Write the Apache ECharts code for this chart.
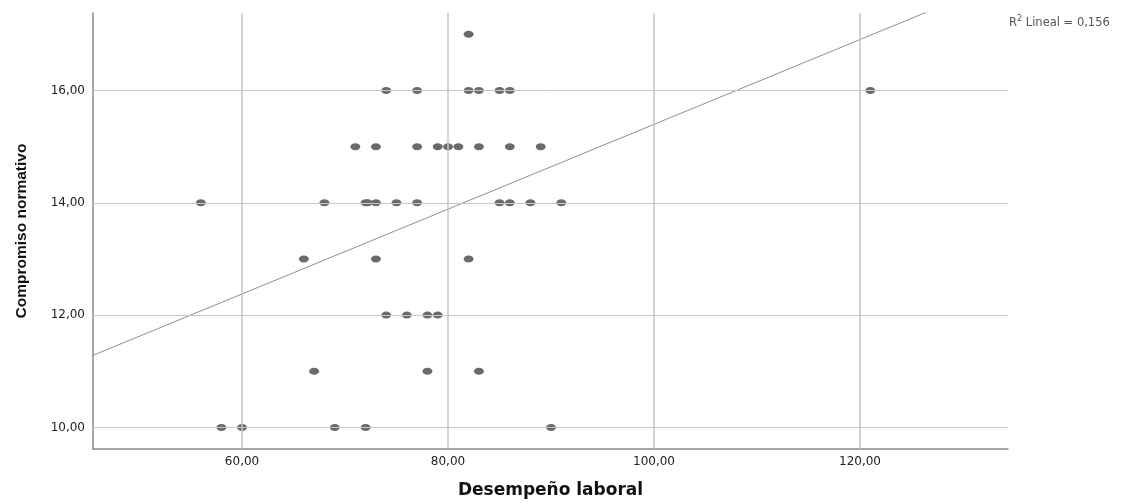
<!DOCTYPE html>
<html>
<head>
<meta charset="utf-8">
<script src="https://cdn.jsdelivr.net/npm/echarts@6/dist/echarts.min.js"></script>
<style>
html,body{margin:0;padding:0;background:#fff;}
#c{width:1132px;height:504px;}
</style>
</head>
<body>
<div id="c"></div>
<script>
// ---- Data ----
// Desempeño laboral (x) values grouped by Compromiso normativo (y) level
const x_y17 = [82];
const x_y16 = [74, 77, 82, 83, 85, 86, 121];
const x_y15 = [71, 73, 77, 79, 80, 81, 83, 86, 89];
const x_y14 = [56, 68, 72, 72.2, 73, 75, 77, 85, 86, 88, 91];
const x_y13 = [66, 73, 82];
const x_y12 = [74, 76, 78, 79];
const x_y11 = [67, 78, 83];
const x_y10 = [58, 60, 69, 72, 90];
const yLevels = [17, 16, 15, 14, 13, 12, 11, 10];
const xGroups = [x_y17, x_y16, x_y15, x_y14, x_y13, x_y12, x_y11, x_y10];

// Axis ranges and tick labels
const xMin = 45.53, xMax = 134.37;
const yMin = 9.616, yMax = 17.38;
const xTicks = [60, 80, 100, 120];
const yTicks = [10, 12, 14, 16];

// Linear fit (as drawn in the reference)
const fitIntercept = 7.847;
const fitSlope = 0.0755;
const r2Text = '0,156';

// ---- Build ----
const points = [];
yLevels.forEach((y, i) => xGroups[i].forEach(x => points.push([x, y])));
const fitLine = [[xMin, fitIntercept + fitSlope * xMin], [xMax, fitIntercept + fitSlope * xMax]];
const fmt = v => Number(v).toFixed(2).replace('.', ',');

const chart = echarts.init(document.getElementById('c'), null, {renderer: 'canvas'});
chart.setOption({
  animation: false,
  backgroundColor: '#ffffff',
  grid: {left: 93, top: 13, right: 124, bottom: 52, containLabel: false},
  xAxis: {
    type: 'value', min: xMin, max: xMax,
    name: 'Desempeño laboral', nameLocation: 'middle', nameGap: 33,
    nameTextStyle: {fontFamily: 'DejaVu Sans', fontWeight: 'bold', fontSize: 17, color: '#111'},
    axisLine: {show: true, onZero: false, lineStyle: {color: '#8a8a8a', width: 1.5}},
    axisTick: {show: false},
    splitLine: {show: false},
    axisLabel: {customValues: xTicks, formatter: fmt, margin: 7,
      fontFamily: 'DejaVu Sans', fontSize: 12, color: '#222'}
  },
  yAxis: {
    type: 'value', min: yMin, max: yMax,
    name: 'Compromiso normativo', nameLocation: 'middle', nameGap: 63, nameRotate: 90,
    nameTextStyle: {fontFamily: 'Liberation Sans', fontWeight: 'bold', fontSize: 15.5, color: '#111'},
    axisLine: {show: true, onZero: false, lineStyle: {color: '#8a8a8a', width: 1.5}},
    axisTick: {show: false},
    splitLine: {show: false},
    axisLabel: {customValues: yTicks, formatter: fmt, margin: 8,
      fontFamily: 'DejaVu Sans', fontSize: 12, color: '#222'}
  },
  series: [
    {
      type: 'scatter', name: 'gridlines', data: [], z: 1, silent: true,
      markLine: {
        silent: true, symbol: 'none', animation: false,
        label: {show: false},
        data: [
          ...xTicks.map(v => ({xAxis: v, lineStyle: {color: '#c4c4c4', width: 1.5, type: 'solid'}})),
          ...yTicks.map(v => ({yAxis: v, lineStyle: {color: '#c8c8c8', width: 1, type: 'solid'}}))
        ]
      }
    },
    {
      type: 'line', name: 'fit', data: fitLine, z: 2, clip: true, silent: true,
      symbol: 'none', showSymbol: false,
      lineStyle: {color: '#8f8f8f', width: 1}
    },
    {
      type: 'scatter', name: 'points', data: points, z: 3,
      symbol: 'circle', symbolSize: [10, 7],
      itemStyle: {color: '#6b6b6b', opacity: 1}
    }
  ],
  graphic: [{
    type: 'text', left: 1009, top: 15,
    style: {
      text: '{r|R}{s|2}{r| Lineal = ' + r2Text + '}',
      rich: {
        r: {fontFamily: 'DejaVu Sans', fontSize: 11.5, fill: '#555', verticalAlign: 'bottom', lineHeight: 14},
        s: {fontFamily: 'DejaVu Sans', fontSize: 8, fill: '#555', verticalAlign: 'top', lineHeight: 14, padding: [0, 0, 6, 0]}
      }
    }
  }]
});
</script>
</body>
</html>
